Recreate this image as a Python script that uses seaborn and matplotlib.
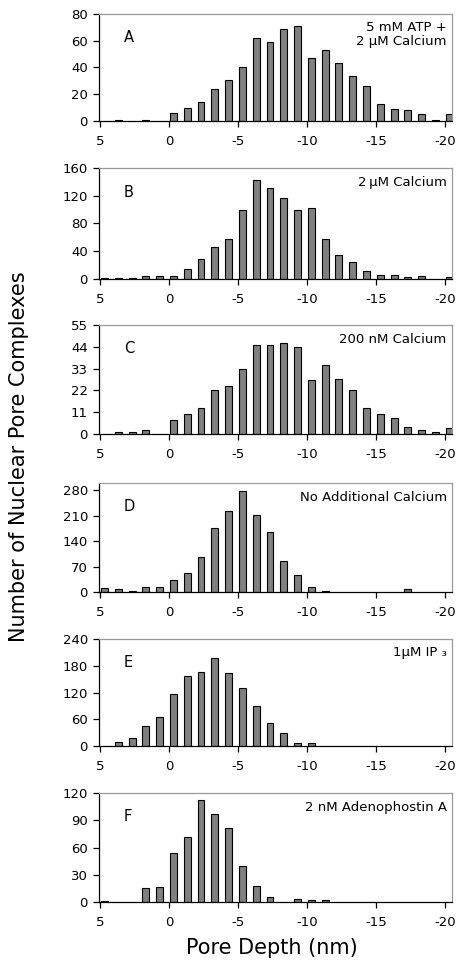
import matplotlib
matplotlib.use("Agg")
import matplotlib.pyplot as plt
import seaborn as sns
import pandas as pd

# Bin centres (pore depth, nm)
depth = [4.7, 3.7, 2.7, 1.7, 0.7, -0.3, -1.3, -2.3, -3.3, -4.3, -5.3, -6.3, -7.3,
         -8.3, -9.3, -10.3, -11.3, -12.3, -13.3, -14.3, -15.3, -16.3, -17.3,
         -18.3, -19.3, -20.3]

counts_A = [0, 1, 0, 1, 0, 6, 10, 14, 24, 31, 40, 62, 59, 69, 71, 47, 53, 43, 34,
            26, 13, 9, 8, 5, 1, 5]
counts_B = [2, 1, 1, 5, 5, 5, 15, 29, 46, 58, 100, 142, 131, 117, 100, 103, 58,
            35, 25, 12, 6, 6, 3, 4, 0, 3]
counts_C = [0, 1, 1, 2, 0, 7, 10, 13, 22, 24, 33, 45, 45, 46, 44, 27, 35, 28, 22,
            13, 10, 8, 3.5, 2, 1, 3]
counts_D = [12, 8, 4, 15, 15, 34, 53, 96, 176, 224, 279, 212, 164, 86, 46, 15, 4,
            0, 0, 0, 0, 0, 8, 0, 0, 0]
counts_E = [0, 8, 17, 44, 66, 116, 156, 167, 197, 164, 131, 90, 51, 29, 6, 6, 0,
            0, 0, 0, 0, 0, 0, 0, 0, 0]
counts_F = [1, 0, 0, 15, 16, 54, 72, 112, 97, 82, 40, 18, 6, 0, 3, 2, 2, 0, 0, 0,
            0, 0, 0, 0, 0, 0]

panel_letters = ["A", "B", "C", "D", "E", "F"]
panel_labels = ["5 mM ATP +\n2 \u03bcM Calcium", "2\u2009\u03bcM Calcium",
                "200 nM Calcium", "No Additional Calcium", "1\u03bcM IP \u2083",
                "2 nM Adenophostin A"]
yticks = [[0, 20, 40, 60, 80], [0, 40, 80, 120, 160], [0, 11, 22, 33, 44, 55],
          [0, 70, 140, 210, 280], [0, 60, 120, 180, 240], [0, 30, 60, 90, 120]]
ytops = [80, 160, 55, 300, 240, 120]
xticks = [5, 0, -5, -10, -15, -20]
xticklabels = ["5", "0", "-5", "-10", "-15", "-20"]
all_counts = [counts_A, counts_B, counts_C, counts_D, counts_E, counts_F]

sns.set_style("ticks")
plt.rcParams["font.family"] = ["DejaVu Sans"]
plt.rcParams["text.color"] = "black"
plt.rcParams["axes.labelcolor"] = "black"
plt.rcParams["xtick.color"] = "black"
plt.rcParams["ytick.color"] = "black"
plt.rcParams["xtick.labelcolor"] = "black"
plt.rcParams["ytick.labelcolor"] = "black"

fig = plt.figure(figsize=(4.61, 9.63), dpi=100)
W, H = 461.0, 963.0
left, right = 99 / W, 452 / W
frames = [(14, 121), (168, 279), (325, 434), (483, 592), (639, 746), (793, 902)]

for i, (top_px, bot_px) in enumerate(frames):
    ax = fig.add_axes([left, 1 - bot_px / H, right - left, (bot_px - top_px) / H])
    df = pd.DataFrame({"depth": depth, "count": all_counts[i]})
    df = df[df["count"] > 0]
    sns.barplot(data=df, x="depth", y="count", native_scale=True, ax=ax,
                color="#808080", saturation=1, edgecolor="black", linewidth=0.8,
                width=0.5, errorbar=None)
    ax.set_xlim(5.1, -20.5)
    ax.set_ylim(0, ytops[i])
    ax.set_yticks(yticks[i])
    ax.set_xticks(xticks)
    ax.set_xticklabels(xticklabels)
    ax.set_xlabel("")
    ax.set_ylabel("")
    ax.tick_params(axis="both", direction="out", length=4, width=0.9,
                   labelsize=9.5, pad=4, color="black", labelcolor="black")
    ax.tick_params(axis="x", pad=6)
    for s in ["left", "bottom"]:
        ax.spines[s].set_color("black")
        ax.spines[s].set_linewidth(0.9)
    for s in ["top", "right"]:
        ax.spines[s].set_visible(True)
        ax.spines[s].set_color("#9a9a9a")
        ax.spines[s].set_linewidth(0.9)
    ax.text(0.07, 0.78, panel_letters[i], transform=ax.transAxes, fontsize=10.5,
            ha="left", va="center", color="black")
    ax.text(0.985, 0.93, panel_labels[i], transform=ax.transAxes, fontsize=9.5,
            ha="right", va="top", linespacing=1.1, color="black")

fig.text(272 / W, 1 - 948 / H, "Pore Depth (nm)", ha="center", va="center",
         fontsize=15, color="black")
fig.text(19 / W, 1 - 457 / H, "Number of Nuclear Pore Complexes", ha="center",
         va="center", rotation=90, fontsize=15, color="black")

fig.savefig("out.png", dpi=100)
